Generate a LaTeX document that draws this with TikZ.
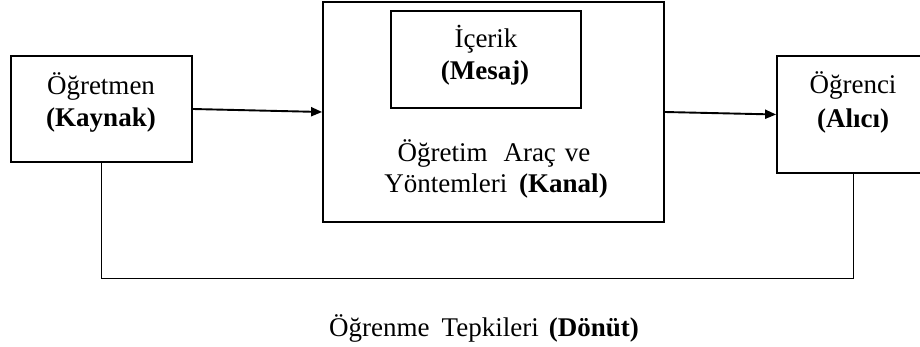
\documentclass[tikz,border=0pt]{standalone}
\usepackage{fontspec}
\setmainfont{Liberation Serif}
\usetikzlibrary{arrows.meta}
\begin{document}
\begin{tikzpicture}[x=1pt,y=-1pt,
  box/.style={draw=black,line width=1.8pt,inner sep=0pt,fill=none},
  innerbox/.style={draw=black,line width=1.3pt,inner sep=0pt},
  txt/.style={anchor=base,inner sep=0pt,font=\fontsize{27}{31}\selectfont},
  flow/.style={line width=1.9pt,-{Triangle[length=11pt,width=9pt]}},
  fb/.style={line width=1pt}]
\useasboundingbox (0,0) rectangle (920,347);
% boxes
\node[box,minimum width=181pt,minimum height=106pt] (L) at (101.5,109) {};
\node[box,minimum width=341pt,minimum height=220pt] (C) at (493.5,112) {};
\node[innerbox,minimum width=190pt,minimum height=97pt] (M) at (486,59.5) {};
\node[box,minimum width=152pt,minimum height=117pt] (R) at (853,114.5) {};
% texts
\node[txt] (l1) at (101,95) {Öğretmen};
\node[txt] (l2) at (101,127) {\textbf{(Kaynak)}};
\node[txt] (m1) at (486,48) {İçerik};
\node[txt] (m2) at (485,80) {\textbf{(Mesaj)}};
\node[txt] (c1) at (494,162) {Öğretim\hspace{16pt}Araç\hspace{9pt}ve};
\node[txt] (c2) at (496,193) {Yöntemleri\hspace{12pt}\textbf{(Kanal)}};
\node[txt] (r1) at (853,94) {Öğrenci};
\node[txt] (r2) at (853,128) {\textbf{(Alıcı)}};
\node[txt] (f1) at (484,336) {Öğrenme\hspace{12pt}Tepkileri\hspace{10pt}\textbf{(Dönüt)}};
% connectors
\coordinate (fbl) at (101.5,278);
\draw[flow] (L.east) -- (C.west);
\draw[flow] (C.east) -- (R.west);
\draw[fb] (L.south) -- (fbl) -| (R.south);
\end{tikzpicture}
\end{document}
